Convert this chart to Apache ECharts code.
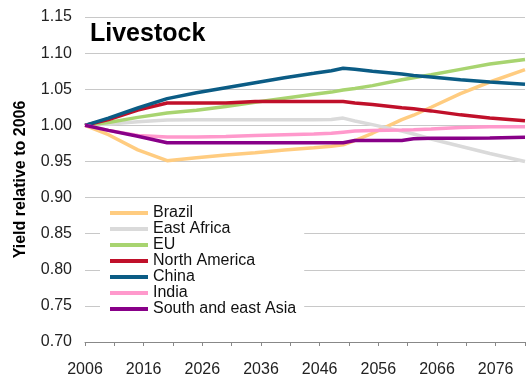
<!DOCTYPE html>
<html>
<head>
<meta charset="utf-8">
<title>Livestock yield</title>
<script src="https://cdn.jsdelivr.net/npm/echarts@6/dist/echarts.min.js"></script>
<style>
  html, body { margin: 0; padding: 0; background: #fff; }
  #chart { width: 528px; height: 378px; }
</style>
</head>
<body>
<div id="chart"></div>
<script>
// Years at which each region's yield index is given
const years = [2006, 2010, 2015, 2020, 2025, 2030, 2035, 2040, 2045, 2048, 2050, 2052, 2055, 2060, 2062, 2065, 2070, 2075, 2081];

// Livestock yield relative to 2006, per region
const brazil       = [1.000, 0.987, 0.966, 0.951, 0.955, 0.959, 0.962, 0.966, 0.969, 0.971, 0.973, 0.979, 0.989, 1.008, 1.014, 1.025, 1.044, 1.060, 1.077];
const eastAfrica   = [1.000, 1.002, 1.005, 1.0075, 1.0078, 1.0078, 1.0078, 1.0078, 1.0078, 1.008, 1.010, 1.006, 1.001, 0.992, 0.988, 0.981, 0.971, 0.961, 0.950];
const eu           = [1.000, 1.004, 1.011, 1.017, 1.021, 1.026, 1.032, 1.0375, 1.043, 1.046, 1.049, 1.051, 1.055, 1.063, 1.066, 1.070, 1.0775, 1.085, 1.091];
const northAmerica = [1.000, 1.008, 1.021, 1.031, 1.031, 1.031, 1.033, 1.033, 1.033, 1.033, 1.033, 1.031, 1.029, 1.0245, 1.023, 1.020, 1.0145, 1.010, 1.0065];
const china        = [1.000, 1.010, 1.024, 1.037, 1.045, 1.052, 1.059, 1.066, 1.072, 1.0757, 1.079, 1.0776, 1.075, 1.071, 1.069, 1.067, 1.063, 1.060, 1.057];
const india        = [1.000, 0.993, 0.986, 0.984, 0.984, 0.9845, 0.986, 0.987, 0.988, 0.989, 0.9905, 0.992, 0.993, 0.9937, 0.994, 0.995, 0.997, 0.998, 0.998];
const seAsia       = [1.000, 0.993, 0.985, 0.976, 0.976, 0.976, 0.976, 0.976, 0.976, 0.976, 0.976, 0.979, 0.979, 0.979, 0.9815, 0.982, 0.982, 0.9825, 0.9835];

const seriesNames = ['Brazil', 'East Africa', 'EU', 'North America', 'China', 'India', 'South and east Asia'];
const seriesValues = [brazil, eastAfrica, eu, northAmerica, china, india, seAsia];
const seriesColors = ['#FFCC80', '#DADADA', '#A8D470', '#C0102A', '#0B5C85', '#FF99CC', '#880088'];

// y-axis range and x-axis extent shown
const yMin = 0.70, yMax = 1.15, yStep = 0.05;
const xMin = 2006, xMax = 2081, xStep = 5;

const FONT = 'Liberation Sans, Arial, sans-serif';

const chart = echarts.init(document.getElementById('chart'), null, { renderer: 'canvas' });

chart.setOption({
  animation: false,
  backgroundColor: '#fff',
  title: {
    text: 'Livestock',
    left: 90,
    top: 22,
    padding: 0,
    textStyle: { fontFamily: FONT, fontSize: 25, fontWeight: 'bold', color: '#000' }
  },
  grid: { left: 85, right: 0, top: 17, bottom: 35, containLabel: false },
  legend: {
    orient: 'vertical',
    left: 100,
    top: 204,
    padding: [1, 8, 6, 10],
    backgroundColor: '#fff',
    icon: 'rect',
    itemWidth: 38,
    itemHeight: 4,
    itemGap: 0,
    textStyle: { fontFamily: FONT, fontSize: 16, lineHeight: 16, color: '#111' },
    data: seriesNames
  },
  xAxis: {
    type: 'value',
    min: xMin,
    max: xMax,
    interval: xStep,
    splitLine: { show: false },
    axisLine: { show: true, lineStyle: { color: '#888', width: 1 } },
    axisTick: { show: true, length: 4, lineStyle: { color: '#888' } },
    axisLabel: {
      margin: 20,
      fontFamily: FONT,
      fontSize: 16,
      color: '#222',
      showMinLabel: true,
      showMaxLabel: true,
      formatter: v => ((v - xMin) % 10 === 0 && v < xMax) ? String(v) : ''
    }
  },
  yAxis: {
    type: 'value',
    min: yMin,
    max: yMax,
    interval: yStep,
    name: 'Yield relative to 2006',
    nameLocation: 'middle',
    nameGap: 56,
    nameTextStyle: { fontFamily: FONT, fontSize: 16, fontWeight: 'bold', color: '#000' },
    axisLine: { show: false },
    axisTick: { show: false },
    splitLine: { show: true, lineStyle: { color: '#C8C8C8', width: 1 } },
    axisLabel: {
      margin: 13,
      fontFamily: FONT,
      fontSize: 16,
      color: '#222',
      formatter: v => v.toFixed(2)
    }
  },
  series: seriesNames.map((name, i) => ({
    name,
    type: 'line',
    data: years.map((y, k) => [y, seriesValues[i][k]]),
    showSymbol: false,
    symbol: 'none',
    smooth: false,
    color: seriesColors[i],
    lineStyle: { width: 3.5, color: seriesColors[i] },
    z: 2
  }))
});
</script>
</body>
</html>
